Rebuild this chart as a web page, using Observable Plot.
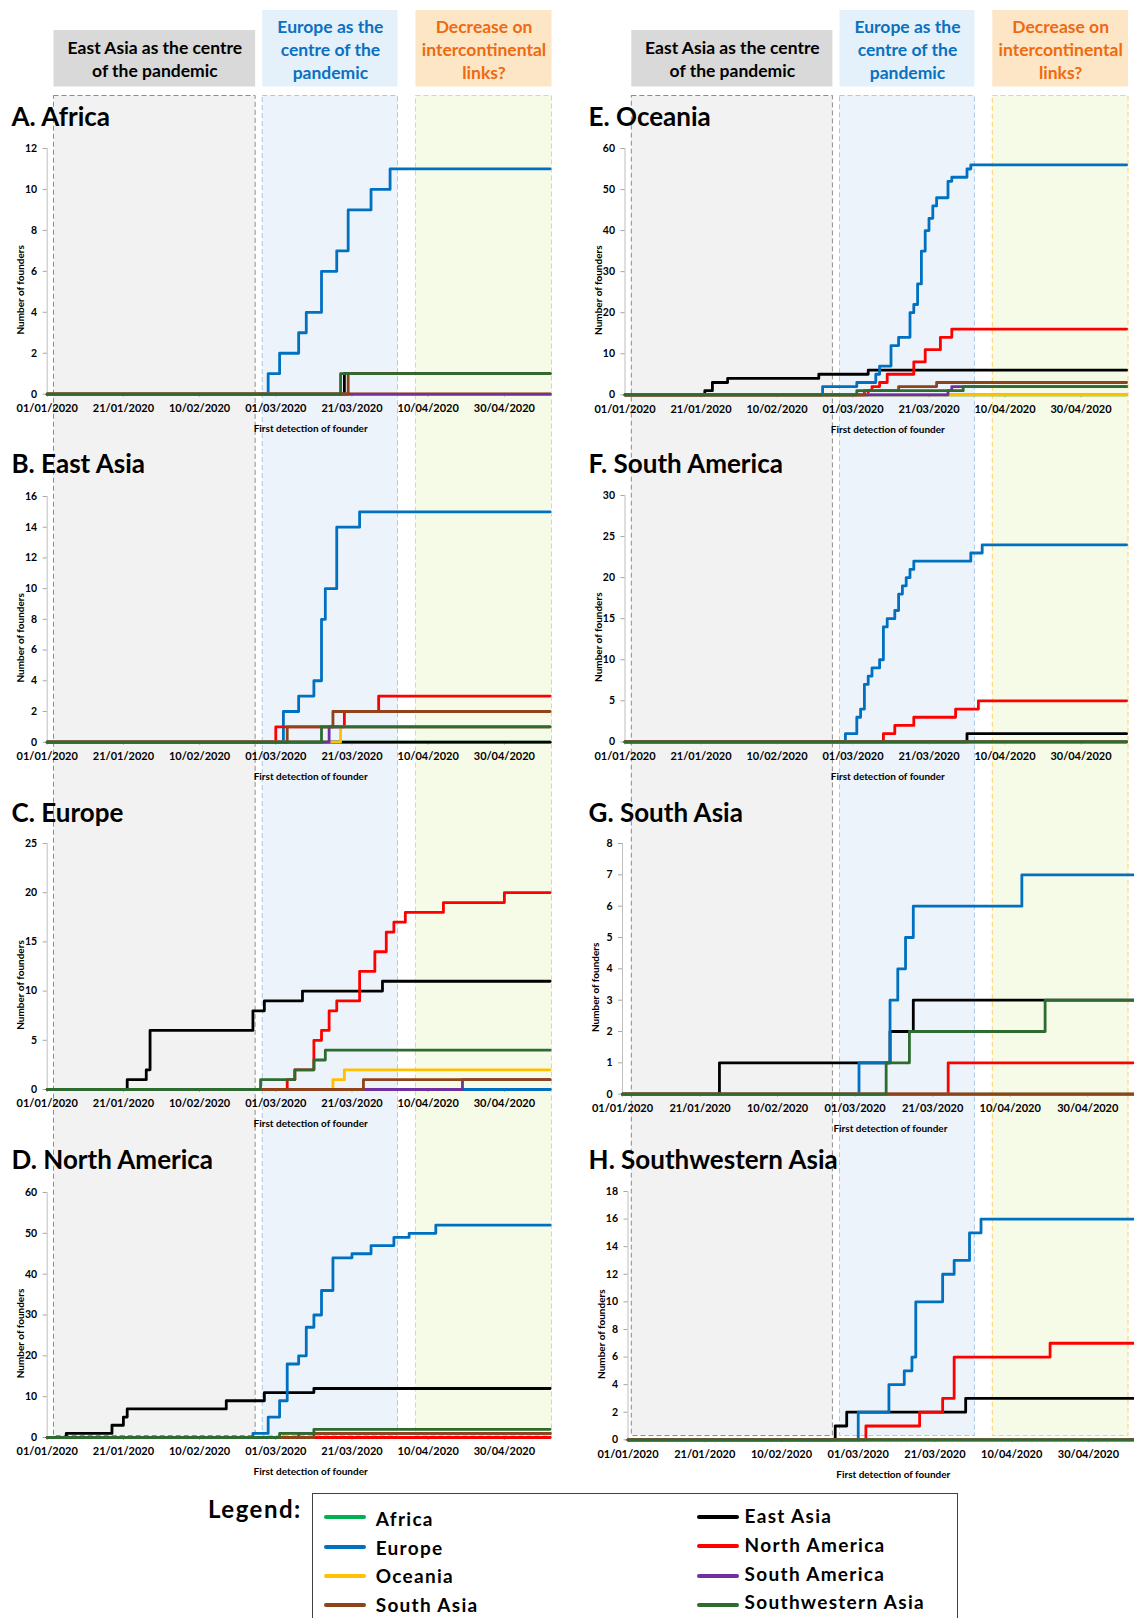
<!DOCTYPE html>
<html>
<head>
<meta charset="utf-8">
<script src="https://cdn.jsdelivr.net/npm/d3@7"></script>
<script src="https://cdn.jsdelivr.net/npm/@observablehq/plot@0.6"></script>
<style>
  html, body { margin: 0; padding: 0; background: #fff; }
  #page { position: relative; width: 1134px; height: 1618px; overflow: hidden; font-family: Lato, "Open Sans", sans-serif; }
  .abs { position: absolute; }
  .ptitle { position: absolute; font-family: Lato, sans-serif; font-weight: 700; font-size: 26px; line-height: 26px; color: #000; white-space: nowrap; }
  .lgtitle { position: absolute; font-family: Lato, sans-serif; font-weight: 700; font-size: 24px; line-height: 24px; letter-spacing: 1.5px; color: #000; white-space: nowrap; }
  .lgtext { position: absolute; font-family: Lato, sans-serif; font-weight: 700; font-size: 19px; line-height: 19px; letter-spacing: 1.3px; color: #000; white-space: nowrap; }
  .lgbox { position: absolute; border: 1.5px solid #404040; box-sizing: border-box; background: #fff; }
  .lgsw { position: absolute; height: 4px; border-radius: 2px; }
</style>
</head>
<body>
<div id="page"></div>
<script>
// ---------------- DATA ----------------
const seriesNames = ["Africa", "East Asia", "Europe", "North America", "Oceania", "South America", "South Asia", "Southwestern Asia"];
const seriesColors = ["#00b050", "#000000", "#0070c0", "#ff0000", "#ffc000", "#7030a0", "#8f4318", "#2e6b30"];
const legendOrder = ["Africa", "Europe", "Oceania", "South Asia", "East Asia", "North America", "South America", "Southwestern Asia"];

const xStart = "2020-01-01";
const xEnd = "2020-05-12";
const xTickDates = ["2020-01-01", "2020-01-21", "2020-02-10", "2020-03-01", "2020-03-21", "2020-04-10", "2020-04-30"];

const periodLabels = ["East Asia as the centre\nof the pandemic", "Europe as the\ncentre of the\npandemic", "Decrease on\nintercontinental\nlinks?"];
const periodStart = ["2020-01-02T19:00Z", "2020-02-26T14:00Z", "2020-04-06T19:00Z"];
const periodEnd = ["2020-02-24T17:00Z", "2020-04-02T02:00Z", "2020-05-12T12:00Z"];

const panelTitles = ["A. Africa", "B. East Asia", "C. Europe", "D. North America", "E. Oceania", "F. South America", "G. South Asia", "H. Southwestern Asia"];
const panelYMax = [12, 16, 25, 60, 60, 30, 8, 18];
const panelYStep = [2, 2, 5, 10, 10, 5, 1, 2];
const yLabel = "Number of founders";
const xLabel = "First detection of founder";
const legendLabel = "Legend:";

// cumulative number of founders: [origin, date of increase, new cumulative value]
const eventsA = [
  ["Europe", "2020-02-28", 1], ["Europe", "2020-03-02", 2], ["Europe", "2020-03-07", 3], ["Europe", "2020-03-09", 4],
  ["Europe", "2020-03-13", 6], ["Europe", "2020-03-17", 7], ["Europe", "2020-03-20", 9], ["Europe", "2020-03-26", 10],
  ["Europe", "2020-03-31", 11],
  ["Southwestern Asia", "2020-03-18", 1], ["East Asia", "2020-03-19", 1], ["South Asia", "2020-03-20", 1]
];
const eventsB = [
  ["Europe", "2020-03-03", 2], ["Europe", "2020-03-07", 3], ["Europe", "2020-03-11", 4], ["Europe", "2020-03-13", 8],
  ["Europe", "2020-03-14", 10], ["Europe", "2020-03-17", 14], ["Europe", "2020-03-23", 15],
  ["North America", "2020-03-01", 1], ["North America", "2020-03-19", 2], ["North America", "2020-03-28", 3],
  ["South Asia", "2020-03-04", 1], ["South Asia", "2020-03-16", 2],
  ["Southwestern Asia", "2020-03-13", 1], ["South America", "2020-03-15", 1], ["Oceania", "2020-03-18", 1]
];
const eventsC = [
  ["East Asia", "2020-01-22", 1], ["East Asia", "2020-01-27", 2], ["East Asia", "2020-01-28", 6], ["East Asia", "2020-02-24", 8],
  ["East Asia", "2020-02-27", 9], ["East Asia", "2020-03-08", 10], ["East Asia", "2020-03-29", 11],
  ["North America", "2020-03-04", 1], ["North America", "2020-03-06", 2], ["North America", "2020-03-11", 5],
  ["North America", "2020-03-13", 6], ["North America", "2020-03-15", 8], ["North America", "2020-03-17", 9],
  ["North America", "2020-03-23", 12], ["North America", "2020-03-27", 14], ["North America", "2020-03-30", 16],
  ["North America", "2020-04-01", 17], ["North America", "2020-04-04", 18], ["North America", "2020-04-14", 19],
  ["North America", "2020-04-30", 20],
  ["Southwestern Asia", "2020-02-26", 1], ["Southwestern Asia", "2020-03-06", 2], ["Southwestern Asia", "2020-03-11", 3],
  ["Southwestern Asia", "2020-03-14", 4],
  ["Oceania", "2020-03-16", 1], ["Oceania", "2020-03-19", 2],
  ["South Asia", "2020-03-24", 1], ["South America", "2020-04-19", 1]
];
const eventsD = [
  ["East Asia", "2020-01-06", 1], ["East Asia", "2020-01-18", 3], ["East Asia", "2020-01-21", 5], ["East Asia", "2020-01-22", 7],
  ["East Asia", "2020-02-17", 9], ["East Asia", "2020-02-27", 11], ["East Asia", "2020-03-11", 12],
  ["Europe", "2020-02-24", 1], ["Europe", "2020-02-28", 5], ["Europe", "2020-03-02", 9], ["Europe", "2020-03-04", 18],
  ["Europe", "2020-03-07", 20], ["Europe", "2020-03-09", 27], ["Europe", "2020-03-11", 30], ["Europe", "2020-03-13", 36],
  ["Europe", "2020-03-16", 44], ["Europe", "2020-03-21", 45], ["Europe", "2020-03-26", 47], ["Europe", "2020-04-01", 49],
  ["Europe", "2020-04-05", 50], ["Europe", "2020-04-12", 52],
  ["Southwestern Asia", "2020-03-02", 1], ["Southwestern Asia", "2020-03-11", 2],
  ["Oceania", "2020-03-03", 1], ["South America", "2020-03-07", 1], ["South Asia", "2020-03-11", 1]
];
const eventsE = [
  ["East Asia", "2020-01-22", 1], ["East Asia", "2020-01-24", 3], ["East Asia", "2020-01-28", 4], ["East Asia", "2020-02-21", 5],
  ["East Asia", "2020-03-05", 6],
  ["Europe", "2020-02-22", 2], ["Europe", "2020-03-02", 3], ["Europe", "2020-03-07", 5], ["Europe", "2020-03-08", 7],
  ["Europe", "2020-03-11", 12], ["Europe", "2020-03-13", 14], ["Europe", "2020-03-16", 20], ["Europe", "2020-03-17", 22],
  ["Europe", "2020-03-18", 27], ["Europe", "2020-03-19", 35], ["Europe", "2020-03-20", 40], ["Europe", "2020-03-21", 43],
  ["Europe", "2020-03-22", 46], ["Europe", "2020-03-23", 48], ["Europe", "2020-03-26", 52], ["Europe", "2020-03-27", 53],
  ["Europe", "2020-03-31", 55], ["Europe", "2020-04-01", 56],
  ["North America", "2020-03-05", 1], ["North America", "2020-03-06", 2], ["North America", "2020-03-08", 3],
  ["North America", "2020-03-10", 5], ["North America", "2020-03-17", 8], ["North America", "2020-03-20", 11],
  ["North America", "2020-03-24", 14], ["North America", "2020-03-27", 16],
  ["South Asia", "2020-03-04", 1], ["South Asia", "2020-03-13", 2], ["South Asia", "2020-03-23", 3],
  ["Southwestern Asia", "2020-03-02", 1], ["Southwestern Asia", "2020-03-30", 2],
  ["South America", "2020-03-26", 1], ["South America", "2020-03-27", 2]
];
const eventsF = [
  ["Europe", "2020-02-28", 1], ["Europe", "2020-03-02", 3], ["Europe", "2020-03-03", 4], ["Europe", "2020-03-04", 7],
  ["Europe", "2020-03-05", 8], ["Europe", "2020-03-06", 9], ["Europe", "2020-03-08", 10], ["Europe", "2020-03-09", 14],
  ["Europe", "2020-03-10", 15], ["Europe", "2020-03-12", 16], ["Europe", "2020-03-13", 18], ["Europe", "2020-03-14", 19],
  ["Europe", "2020-03-15", 20], ["Europe", "2020-03-16", 21], ["Europe", "2020-03-17", 22], ["Europe", "2020-04-01", 23],
  ["Europe", "2020-04-04", 24],
  ["North America", "2020-03-09", 1], ["North America", "2020-03-12", 2], ["North America", "2020-03-17", 3],
  ["North America", "2020-03-28", 4], ["North America", "2020-04-03", 5],
  ["East Asia", "2020-03-31", 1]
];
const eventsG = [
  ["East Asia", "2020-01-26", 1], ["East Asia", "2020-03-10", 2], ["East Asia", "2020-03-16", 3],
  ["Europe", "2020-03-02", 1], ["Europe", "2020-03-10", 3], ["Europe", "2020-03-12", 4], ["Europe", "2020-03-14", 5],
  ["Europe", "2020-03-16", 6], ["Europe", "2020-04-13", 7],
  ["Southwestern Asia", "2020-03-09", 1], ["Southwestern Asia", "2020-03-15", 2], ["Southwestern Asia", "2020-04-19", 3],
  ["North America", "2020-03-25", 1]
];
const eventsH = [
  ["East Asia", "2020-02-24", 1], ["East Asia", "2020-02-27", 2], ["East Asia", "2020-03-29", 3],
  ["Europe", "2020-03-01", 2], ["Europe", "2020-03-09", 4], ["Europe", "2020-03-13", 5], ["Europe", "2020-03-15", 6],
  ["Europe", "2020-03-16", 10], ["Europe", "2020-03-23", 12], ["Europe", "2020-03-26", 13], ["Europe", "2020-03-30", 15],
  ["Europe", "2020-04-02", 16],
  ["North America", "2020-03-03", 1], ["North America", "2020-03-17", 2], ["North America", "2020-03-23", 3],
  ["North America", "2020-03-26", 6], ["North America", "2020-04-20", 7]
];
const panelEvents = [eventsA, eventsB, eventsC, eventsD, eventsE, eventsF, eventsG, eventsH];

// ---------------- LAYOUT & STYLE ----------------
const W = 567;
const colLeft = [0, 567];
const colX0 = [46.7, 624.5], colX1 = [549.6, 1126.1];
const headerH = 95, bgTop = 95, bgBottom = 1436;
const panelLayout = [
  {col: 0, x0: 46.7, x1: 549.6, top: 148.3, bottom: 394, base: 126},
  {col: 0, x0: 46.7, x1: 549.6, top: 496, bottom: 741.7, base: 473.3},
  {col: 0, x0: 46.7, x1: 549.6, top: 843.3, bottom: 1089.3, base: 821.7},
  {col: 0, x0: 46.7, x1: 549.6, top: 1191.7, bottom: 1436.7, base: 1169},
  {col: 1, x0: 624.5, x1: 1126.1, top: 147.7, bottom: 394, base: 126},
  {col: 1, x0: 624.5, x1: 1126.1, top: 495.3, bottom: 741.7, base: 473},
  {col: 1, x0: 622, x1: 1133.8, top: 843.3, bottom: 1094, base: 821.7},
  {col: 1, x0: 627.5, x1: 1134, top: 1190.7, bottom: 1439, base: 1169}
];
const titleX = [11.5, 588.6];
const headerFill = ["#d9d9d9", "#e4f0fa", "#fde6c6"];
const headerText = ["#000000", "#0a70c0", "#ee6a10"];
const regionFill = ["#f2f2f2", "#edf3fa", "#f6fbe7"];
const regionStroke = ["#8c8c8c", "#a7c9ea", "#ffcf70"];

const parse = d3.utcParse("%Y-%m-%d");
const fmt = d3.utcFormat("%d/%m/%Y");
const xDomain = [parse(xStart), parse(xEnd)];
const page = document.getElementById("page");
const svgStyle = {background: "transparent", overflow: "visible", fontFamily: "Lato, sans-serif", fontWeight: "700", color: "#000"};

function place(node, left, top, z) {
  const d = document.createElement("div");
  d.className = "abs";
  d.style.left = left + "px";
  d.style.top = top + "px";
  d.style.zIndex = z;
  d.appendChild(node);
  page.appendChild(d);
  return d;
}

const periods = periodLabels.map((label, i) => ({label, start: new Date(periodStart[i]), end: new Date(periodEnd[i])}));

// header boxes and shaded periods, one per column
for (let c = 0; c < 2; c++) {
  const ml = colX0[c] - colLeft[c], mr = colLeft[c] + W - colX1[c];
  const header = Plot.plot({
    width: W, height: headerH, marginLeft: ml, marginRight: mr, marginTop: 10, marginBottom: 8.5,
    style: svgStyle,
    x: {type: "utc", domain: xDomain, axis: null},
    marks: [
      ...periods.map((p, i) => Plot.rect([p], {x1: "start", x2: "end", fill: headerFill[i], insetTop: i === 0 ? 20 : 0})),
      ...periods.map((p, i) => Plot.text([p], {
        x: d => new Date((+d.start + +d.end) / 2), text: "label", frameAnchor: "middle",
        dy: i === 0 ? 9.5 : 0, lineHeight: 1.314, fontSize: 17.5, fontWeight: 700, fill: headerText[i]
      }))
    ]
  });
  place(header, colLeft[c], 0, 1);

  const bg = Plot.plot({
    width: W, height: bgBottom - bgTop, marginLeft: ml, marginRight: mr, marginTop: 0.5, marginBottom: 0.5,
    style: svgStyle,
    x: {type: "utc", domain: xDomain, axis: null},
    marks: periods.map((p, i) => Plot.rect([p], {
      x1: "start", x2: "end", fill: regionFill[i], stroke: regionStroke[i], strokeWidth: 1, strokeDasharray: "5,3"
    }))
  });
  place(bg, colLeft[c], bgTop, 1);
}

// panels
panelTitles.forEach((title, i) => {
  const L = panelLayout[i];
  const left = colLeft[L.col];
  const mt = 30, mb = 50;
  const h = mt + (L.bottom - L.top) + mb;
  const rows = [];
  seriesNames.forEach(name => {
    const ev = panelEvents[i].filter(e => e[0] === name);
    rows.push({series: name, date: parse(xStart), value: 0});
    ev.forEach(e => rows.push({series: name, date: parse(e[1]), value: e[2]}));
    rows.push({series: name, date: parse(xEnd), value: ev.length ? ev[ev.length - 1][2] : 0});
  });
  const yMax = panelYMax[i];
  const svg = Plot.plot({
    width: W, height: h,
    marginLeft: L.x0 - left, marginRight: Math.max(0, left + W - L.x1), marginTop: mt, marginBottom: mb,
    style: svgStyle,
    x: {type: "utc", domain: xDomain},
    y: {domain: [0, yMax]},
    color: {domain: seriesNames, range: seriesColors},
    marks: [
      Plot.ruleX([parse(xStart)], {x: d => d, y1: 0, y2: yMax, stroke: "#bfbfbf", strokeWidth: 1}),
      Plot.axisY({ticks: d3.range(0, yMax + 1e-9, panelYStep[i]), tickSize: 4, tickPadding: 6, stroke: "#a6a6a6",
        fill: "#000", fontSize: 10.5, fontWeight: 700, label: null}),
      Plot.axisX({ticks: xTickDates.map(parse), tickFormat: fmt, tickSize: 3, tickPadding: 7, stroke: "#a6a6a6",
        fill: "#000", fontSize: 11, fontWeight: 700, label: null}),
      Plot.line(rows, {x: "date", y: "value", z: "series", stroke: "series", curve: "step-after",
        strokeWidth: 2.8, strokeLinejoin: "round", strokeLinecap: "round"}),
      Plot.text([yLabel], {text: d => d, frameAnchor: "left", textAnchor: "middle", lineAnchor: "middle",
        rotate: -90, dx: -26.5, dy: 18.5, fontSize: 10, fontWeight: 700, fill: "#000"}),
      Plot.text([xLabel], {text: d => d, frameAnchor: "bottom", textAnchor: "middle", lineAnchor: "middle",
        dx: 12, dy: 34.5, fontSize: 10, fontWeight: 700, fill: "#000"})
    ]
  });
  place(svg, left, L.top - mt, 2);

  const t = document.createElement("div");
  t.className = "ptitle";
  t.textContent = title;
  t.style.left = titleX[L.col] + "px";
  t.style.top = (L.base - 23) + "px";
  t.style.zIndex = 3;
  page.appendChild(t);
});

// legend
const lgTitle = document.createElement("div");
lgTitle.className = "lgtitle";
lgTitle.textContent = legendLabel;
lgTitle.style.left = "208px";
lgTitle.style.top = "1497px";
page.appendChild(lgTitle);

const box = document.createElement("div");
box.className = "lgbox";
box.style.left = "311.8px";
box.style.top = "1493.3px";
box.style.width = "646px";
box.style.height = "200px";
page.appendChild(box);

const swX = [324, 697], txtX = [375.7, 744.6];
const swY = [[1517.3, 1546.7, 1575.7, 1605], [1517.3, 1546, 1575.7, 1605]];
const baseY = [[1526, 1554.8, 1583.2, 1611.5], [1522.7, 1551.5, 1580.5, 1609.2]];
legendOrder.forEach((name, k) => {
  const c = k < 4 ? 0 : 1, r = k % 4;
  const sw = document.createElement("div");
  sw.className = "lgsw";
  sw.style.left = swX[c] + "px";
  sw.style.top = (swY[c][r] - 2) + "px";
  sw.style.width = "42px";
  sw.style.background = seriesColors[seriesNames.indexOf(name)];
  page.appendChild(sw);
  const tx = document.createElement("div");
  tx.className = "lgtext";
  tx.textContent = name;
  tx.style.left = txtX[c] + "px";
  tx.style.top = (baseY[c][r] - 16.85) + "px";
  page.appendChild(tx);
});
</script>
</body>
</html>
